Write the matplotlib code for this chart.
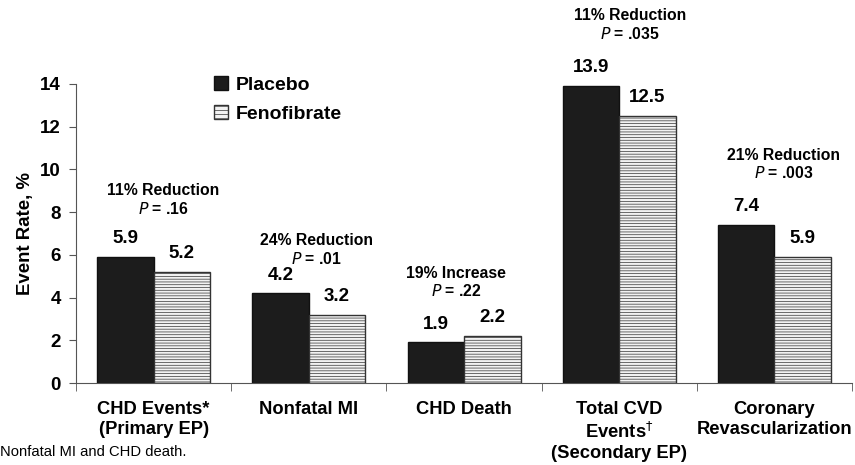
import numpy as np
import matplotlib.pyplot as plt
from matplotlib.patches import Patch

# ---------------------------- Data ---------------------------- #
categories = ['CHD Events*\n(Primary EP)', 'Nonfatal MI', 'CHD Death',
              'Total CVD\nEvents$^{\\dagger}$\n(Secondary EP)', 'Coronary\nRevascularization']
placebo = [5.9, 4.2, 1.9, 13.9, 7.4]
fenofibrate = [5.2, 3.2, 2.2, 12.5, 5.9]
change_text = ['11% Reduction', '24% Reduction', '19% Increase', '11% Reduction', '21% Reduction']
p_text = ['.16', '.01', '.22', '.035', '.003']

# annotation layout (data coords)
ann_x_shift = [0.06, 0.05, -0.05, 0.07, 0.06]
ann_y = [9.0, 6.65, 5.15, 17.2, 10.67]

plt.rcParams['font.family'] = ['Liberation Sans', 'DejaVu Sans']
plt.rcParams['hatch.color'] = '#b4b4b4'
plt.rcParams['hatch.linewidth'] = 0.5

fig = plt.figure(figsize=(8.55, 4.65), dpi=100)
ax = fig.add_axes([0.0889, 0.1763, 0.9076, 0.6431])

x = np.arange(len(categories))
w = 0.364
bars1 = ax.bar(x - w / 2, placebo, width=w, color='#1c1c1c', edgecolor='#111111', linewidth=1)
bars2 = ax.bar(x + w / 2, fenofibrate, width=w, color='#f2f2f2', edgecolor='#333333',
               linewidth=1, hatch='------')

# value labels above each bar
for bar in list(bars1) + list(bars2):
    yval = bar.get_height()
    ax.annotate(f'{yval:.1f}', (bar.get_x() + bar.get_width() / 2, yval),
                xytext=(0, 7), textcoords='offset points', ha='center', va='bottom',
                fontsize=13.5, fontweight='bold', clip_on=False)

# reduction / P value annotations
for i in range(len(categories)):
    ax.text(x[i] + ann_x_shift[i], ann_y[i], change_text[i], ha='center', va='center',
            fontsize=11.3, fontweight='bold', clip_on=False)
    ax.text(x[i] + ann_x_shift[i], ann_y[i] - 0.85, r'$\bf{\it{P}}$' + f' = {p_text[i]}',
            ha='center', va='center', fontsize=11.3, fontweight='bold', clip_on=False)

ax.set_xlim(-0.5, len(categories) - 0.5)
ax.set_ylim(0, 14)
ax.set_yticks(range(0, 15, 2))
ax.set_xticks(x)
ax.set_xticklabels(categories, fontsize=13.2, fontweight='bold', linespacing=1.25)
ax.set_xticks(np.arange(-0.5, len(categories)), minor=True)
ax.tick_params(axis='x', which='major', length=0, pad=13)
ax.tick_params(axis='x', which='minor', length=6, direction='out', color='#555555')
ax.tick_params(axis='y', length=5, direction='out', color='#555555', pad=6)
for lab in ax.get_yticklabels():
    lab.set_fontweight('bold')
    lab.set_fontsize(13.5)

for side in ['top', 'right']:
    ax.spines[side].set_visible(False)
for side in ['left', 'bottom']:
    ax.spines[side].set_color('#555555')

ax.set_ylabel('Event Rate, %', fontsize=13.4, fontweight='bold', labelpad=4)

# legend
handles = [Patch(facecolor='#1c1c1c', edgecolor='#111111'),
           Patch(facecolor='#f2f2f2', edgecolor='#333333', hatch='----')]
ax.legend(handles, ['Placebo', 'Fenofibrate'], loc='upper left',
          bbox_to_anchor=(0.155, 1.085), frameon=False, handlelength=0.75, handleheight=0.75,
          handletextpad=0.4, labelspacing=0.55, prop={'weight': 'bold', 'size': 14})

fig.text(0.0, 0.027, 'Nonfatal MI and CHD death.', fontsize=10.6, ha='left', va='center')

fig.savefig('out.png', dpi=100)
